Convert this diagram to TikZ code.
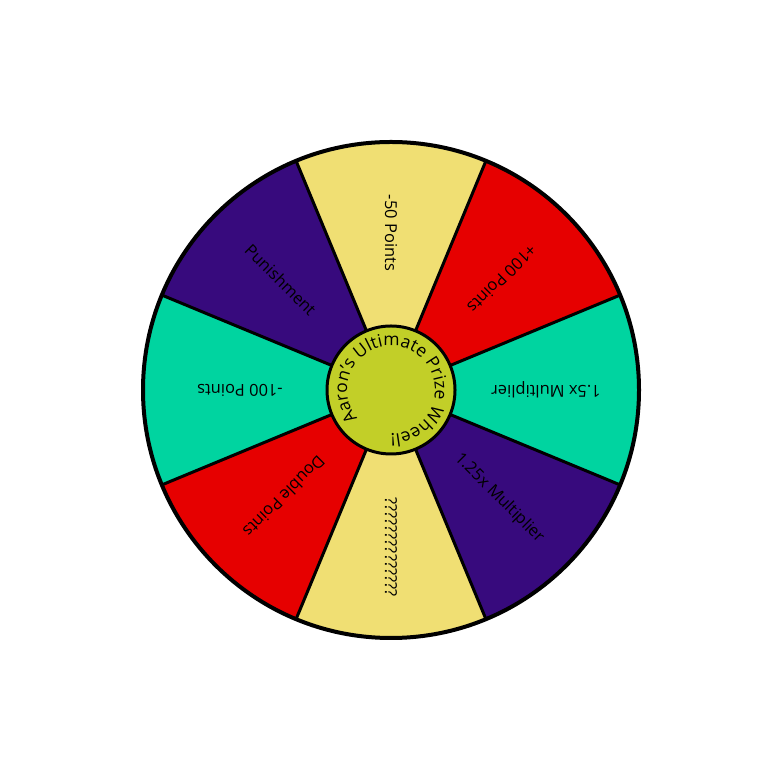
\documentclass[tikz,border=0pt]{standalone}
\usepackage{fontspec}
\setmainfont{Open Sans}
\usetikzlibrary{decorations.text}
\definecolor{wyellow}{RGB}{240,223,115}
\definecolor{wred}{RGB}{230,0,0}
\definecolor{wgreen}{RGB}{0,212,160}
\definecolor{wpurple}{RGB}{55,10,125}
\definecolor{wlime}{RGB}{194,207,40}
\begin{document}
\begin{tikzpicture}[x=1bp,y=1bp,
  seglabel/.style={font=\fontsize{16.5}{20}\selectfont, inner sep=0pt, text=black},
  segline/.style={line width=3bp, black},
  rimline/.style={line width=4bp, black}]
\useasboundingbox[fill=white] (0,0) rectangle (781,781);
\begin{scope}[shift={(391,391)}]
  \coordinate (c) at (0,0);
  \foreach \a/\col in {90/wyellow,45/wred,0/wgreen,-45/wpurple,-90/wyellow,-135/wred,180/wgreen,135/wpurple}{
    \fill[\col] (c) -- ({\a-22.5}:248) arc[start angle={\a-22.5}, end angle={\a+22.5}, radius=248] -- cycle;
  }
  \foreach \i in {0,...,7}{
    \coordinate (e\i) at ({22.5+45*\i}:248);
    \draw[segline] (c) -- (e\i);
  }
  \draw[rimline] (c) circle[radius=248];
  \node[seglabel, rotate=-90] (t1) at (90:157) {-50 Points};
  \node[seglabel, rotate=225] (t2) at (45:157) {+100 Points};
  \node[seglabel, rotate=180] (t3) at (0:155) {1.5x Multiplier};
  \node[seglabel, rotate=-45] (t4) at (-45:153) {1.25x Multiplier};
  \node[seglabel, rotate=-90] (t5) at (-90:157) {??????????????};
  \node[seglabel, rotate=225] (t6) at (-135:151) {Double Points};
  \node[seglabel, rotate=180] (t7) at (180:151) {-100 Points};
  \node[seglabel, rotate=-45] (t8) at (135:156) {Punishment};
  \node[circle, draw=black, line width=3bp, fill=wlime, minimum size=128bp, inner sep=0pt] (hub) at (c) {};
  \path[decorate, decoration={text along path, text align=center,
      text={|\fontsize{17.5}{20}\selectfont|Aaron's Ultimate Prize Wheel!}}]
    (245:44) arc[start angle=245, end angle=-115, radius=44];
\end{scope}
\end{tikzpicture}
\end{document}
